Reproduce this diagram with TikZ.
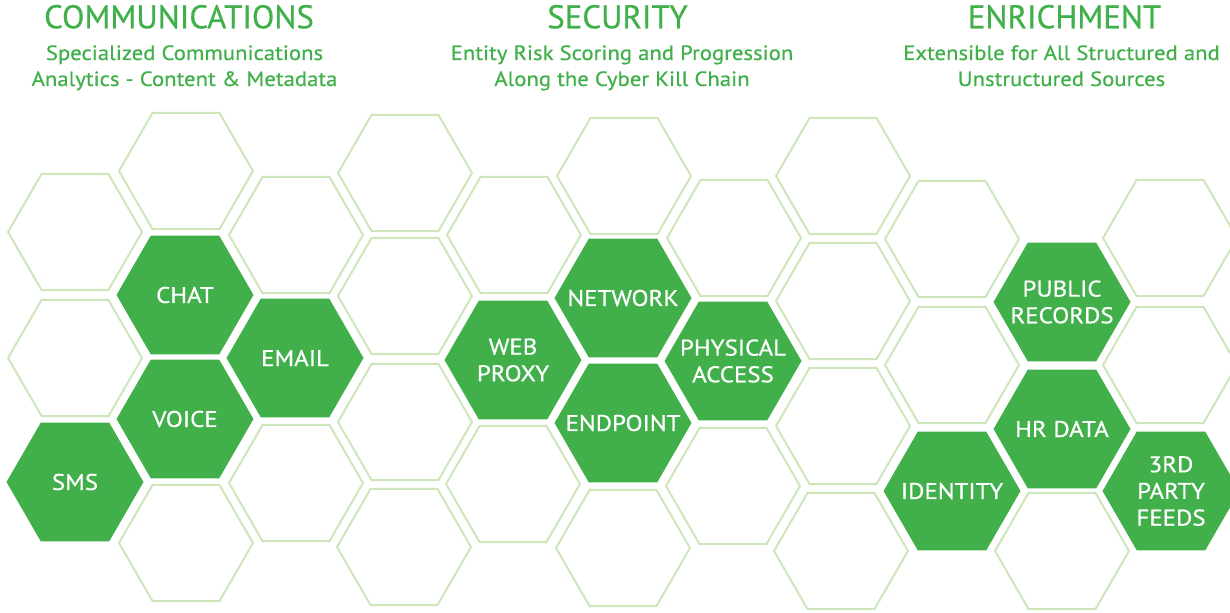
\documentclass[tikz,border=0pt]{standalone}
\usepackage{fontspec}
\setmainfont{PT Sans}
\newfontfamily\headfont{PT Sans}[RawFeature={embolden=0.6}]
\newfontfamily\bodyfont{PT Sans}[FakeStretch=1.1, RawFeature={embolden=0.6}]
\usetikzlibrary{shapes.geometric}

\definecolor{hexgreen}{RGB}{65,176,75}
\definecolor{hexline}{RGB}{206,230,186}

\tikzset{
  hexfull/.style={regular polygon, regular polygon sides=6, fill=hexgreen,
    inner sep=-25pt, minimum size=102.75pt, text=white, align=center,
    font=\bodyfont\fontsize{17}{20}\selectfont},
  hexempty/.style={regular polygon, regular polygon sides=6, draw=hexline,
    line width=1.5pt, inner sep=0pt, minimum size=100.5pt},
  heading/.style={text=hexgreen, anchor=base, font=\headfont\fontsize{24.6}{28}\selectfont},
  subline/.style={text=hexgreen, anchor=base, font=\bodyfont\fontsize{15.5}{19.5}\selectfont}
}

\begin{document}
\begin{tikzpicture}[x=0.75pt, y=-0.75pt]
        \useasboundingbox (0,0) rectangle (1230,613);
        \clip (0,0) rectangle (1230,613);

        % headings
        \node[heading] (comm) at (179,28.3) {COMMUNICATIONS};
        \node[subline] (comm1) at (184.5,60) {Specialized Communications};
        \node[subline] (comm2) at (184.5,86) {Analytics - Content \& Metadata};
        \node[heading] (sec) at (617.5,28.3) {SECURITY};
        \node[subline] (sec1) at (622,60) {Entity Risk Scoring and Progression};
        \node[subline] (sec2) at (622,86) {Along the Cyber Kill Chain};
        \node[heading] (enr) at (1064.5,28.3) {ENRICHMENT};
        \node[subline] (enr1) at (1061.5,60) {Extensible for All Structured and};
        \node[subline] (enr2) at (1061.5,86) {Unstructured Sources};

        % empty cells
        \node[hexempty] (h1) at (75,232) {};
        \node[hexempty] (h2) at (75,358) {};
        \node[hexempty] (h3) at (186,171) {};
        \node[hexempty] (h4) at (186,543) {};
        \node[hexempty] (h5) at (296,235) {};
        \node[hexempty] (h6) at (296,483) {};
        \node[hexempty] (h7) at (405,173) {};
        \node[hexempty] (h8) at (405,296) {};
        \node[hexempty] (h9) at (405,422) {};
        \node[hexempty] (h10) at (404,547) {};
        \node[hexempty] (h11) at (514,235) {};
        \node[hexempty] (h12) at (513,484) {};
        \node[hexempty] (h13) at (624,176) {};
        \node[hexempty] (h14) at (623,548) {};
        \node[hexempty] (h15) at (734,238) {};
        \node[hexempty] (h16) at (733,486) {};
        \node[hexempty] (h17) at (843,176) {};
        \node[hexempty] (h18) at (843,301) {};
        \node[hexempty] (h19) at (843,426) {};
        \node[hexempty] (h20) at (841,551) {};
        \node[hexempty] (h21) at (952,239) {};
        \node[hexempty] (h22) at (952,365) {};
        \node[hexempty] (h23) at (1062,551) {};
        \node[hexempty] (h24) at (1170,238) {};
        \node[hexempty] (h25) at (1170,365) {};

        % communications
        \node[hexfull] (chat) at (185,295) {CHAT};
        \node[hexfull] (email) at (295,358) {EMAIL};
        \node[hexfull] (voice) at (185,419) {VOICE};
        \node[hexfull] (sms) at (75,482) {SMS};

        % security
        \node[hexfull] (webproxy) at (513,360) {WEB\\PROXY};
        \node[hexfull] (network) at (623,298) {NETWORK};
        \node[hexfull] (endpoint) at (623,423) {ENDPOINT};
        \node[hexfull] (physical) at (733,361) {PHYSICAL\\ACCESS};

        % enrichment
        \node[hexfull] (public) at (1062,302) {PUBLIC\\RECORDS};
        \node[hexfull] (hrdata) at (1062,429) {HR DATA};
        \node[hexfull] (identity) at (952,491) {IDENTITY};
        \node[hexfull] (thirdparty) at (1171,491) {3RD\\PARTY\\FEEDS};
      \end{tikzpicture}
\end{document}
